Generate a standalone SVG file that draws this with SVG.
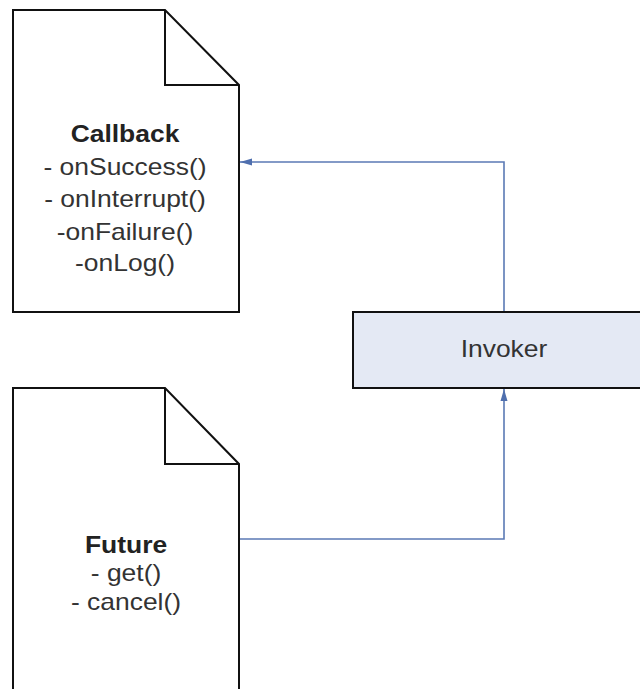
<svg xmlns="http://www.w3.org/2000/svg" width="640" height="689" viewBox="0 0 640 689">
<style>
.doc{fill:#ffffff;stroke:#111;stroke-width:2}
.fold{fill:none;stroke:#111;stroke-width:2}
.t{font-family:"Liberation Sans",Arial,sans-serif;font-size:23px;fill:#333;text-anchor:middle}
.b{font-weight:bold;fill:#222}
.c{fill:none;stroke:#5b7ab5;stroke-width:1.6}
</style>
<defs>
<marker id="ah" viewBox="0 0 12 8" refX="12" refY="4" markerWidth="12" markerHeight="8" orient="auto" markerUnits="userSpaceOnUse">
<path d="M0,0.5 L12,4 L0,7.5 Z" fill="#4f6fae"/>
</marker>
</defs>
<rect width="640" height="689" fill="#fff"/>
<g id="callback">
<path class="doc" d="M13,10 L165,10 L239,85 L239,312 L13,312 Z"/>
<path class="fold" d="M165,10 L165,85 L239,85"/>
<g transform="translate(125,0) scale(1.15,1)">
<text class="t b" x="0" y="142">Callback</text>
<text class="t" x="0" y="175">- onSuccess()</text>
<text class="t" x="0" y="207">- onInterrupt()</text>
<text class="t" x="0" y="240">-onFailure()</text>
<text class="t" x="0" y="271">-onLog()</text>
</g>
</g>
<g id="future">
<path class="doc" d="M13,388 L165,388 L239,464 L239,700 L13,700 Z"/>
<path class="fold" d="M165,388 L165,464 L239,464"/>
<g transform="translate(126,0) scale(1.15,1)">
<text class="t b" x="0" y="553">Future</text>
<text class="t" x="0" y="581">- get()</text>
<text class="t" x="0" y="610">- cancel()</text>
</g>
</g>
<g id="invoker">
<rect x="353" y="312" width="300" height="76" fill="#e4e9f4" stroke="#111" stroke-width="2"/>
<text class="t" transform="translate(504,0) scale(1.15,1)" x="0" y="357">Invoker</text>
</g>
<g id="connectors">
<path class="c" d="M504,311 L504,162 L240,162" marker-end="url(#ah)"/>
<path class="c" d="M240,539 L504,539 L504,389" marker-end="url(#ah)"/>
</g>
</svg>
